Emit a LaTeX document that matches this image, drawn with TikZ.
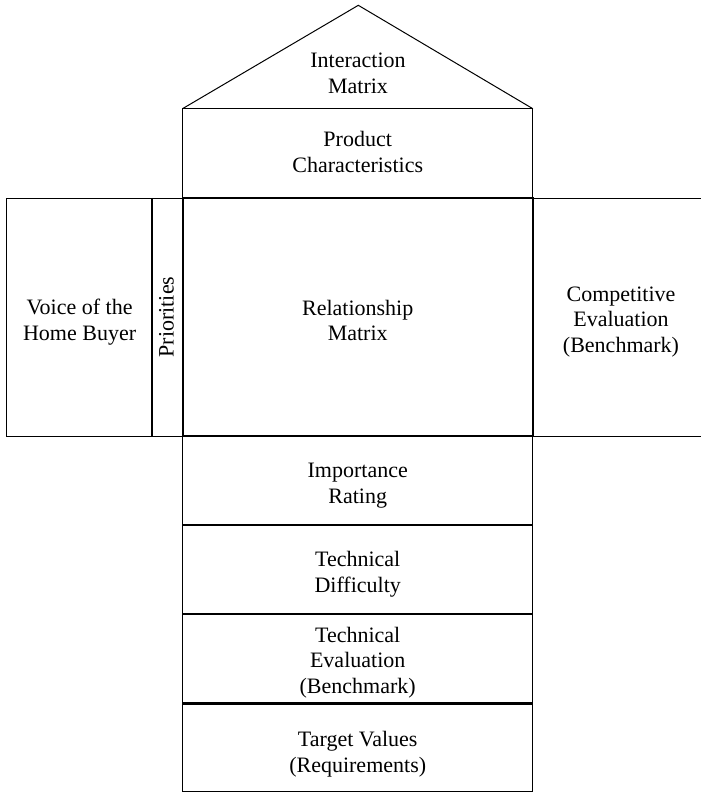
\documentclass[tikz,border=0pt]{standalone}
\usepackage{fontspec}
\setmainfont{Liberation Serif}
\usetikzlibrary{positioning}

\begin{document}
\begin{tikzpicture}
[x=1pt,y=-1pt,%
  every node/.style={align=center,inner sep=0pt,font=\fontsize{22}{25.5}\selectfont},%
  room/.style={draw,line width=1pt,minimum width=350pt},%
  word/.style={anchor=base},%
  thickline/.style={line width=1.8pt}]
\useasboundingbox (0,0) rectangle (701,793);
%% roof
\coordinate (eaveL) at (182.5,108.7);
\coordinate (apex) at (358.3,5.3);
\coordinate (eaveR) at (532.8,108.7);
\draw[line width=1pt] (eaveL) -- (apex) -- (eaveR);
\node[word] (roof) at (358,93) {Interaction\\Matrix};
%%
\node[room,minimum height=89.6pt] (prod) at (357.7,153.5) {};
\node[word] (prodtext) at (357.7,172) {Product\\Characteristics};
%% middle floor
\node[draw,line width=1pt,minimum width=146.2pt,minimum height=237.7pt]
  (voice) at (79.6,317.2) {};
\node[word] (voicetext) at (79.6,340) {Voice of the\\Home Buyer};
\node[draw,line width=1pt,minimum width=29.8pt,minimum height=237.7pt]
  (prio) at (167.6,317.2) {};
\node[rotate=90] (priotext) at (166.5,317) {Priorities};
\node[draw,line width=1pt,minimum width=175pt,minimum height=237.7pt]
  (comp) at (620.3,317.2) {};
\node[word] (comptext) at (621,352) {Competitive\\Evaluation\\(Benchmark)};
\node[room,thickline,minimum height=237.7pt] (rel) at (357.7,317.2) {};
\node[word] (reltext) at (357.7,340.5) {Relationship\\Matrix};
%% lower floors
\node[room,minimum height=88.5pt] (imp) at (357.7,480.2) {};
\node[word] (imptext) at (357.7,503) {Importance\\Rating};
\node[room,minimum height=89pt] (diff) at (357.7,569) {};
\node[word] (difftext) at (357.7,592) {Technical\\Difficulty};
\node[room,minimum height=89.7pt] (teval) at (357.7,658.4) {};
\node[word] (tevaltext) at (357.7,693) {Technical\\Evaluation\\(Benchmark)};
\node[room,minimum height=88.5pt] (target) at (357.7,747.2) {};
\node[word] (targettext) at (357.7,772) {Target Values\\(Requirements)};
\draw[thickline] (prio.north west) -- (prio.south west);
\foreach \upper in {imp, diff, teval}
{
  \draw[thickline] (\upper.south west) -- (\upper.south east);
}
\end{tikzpicture}
\end{document}
